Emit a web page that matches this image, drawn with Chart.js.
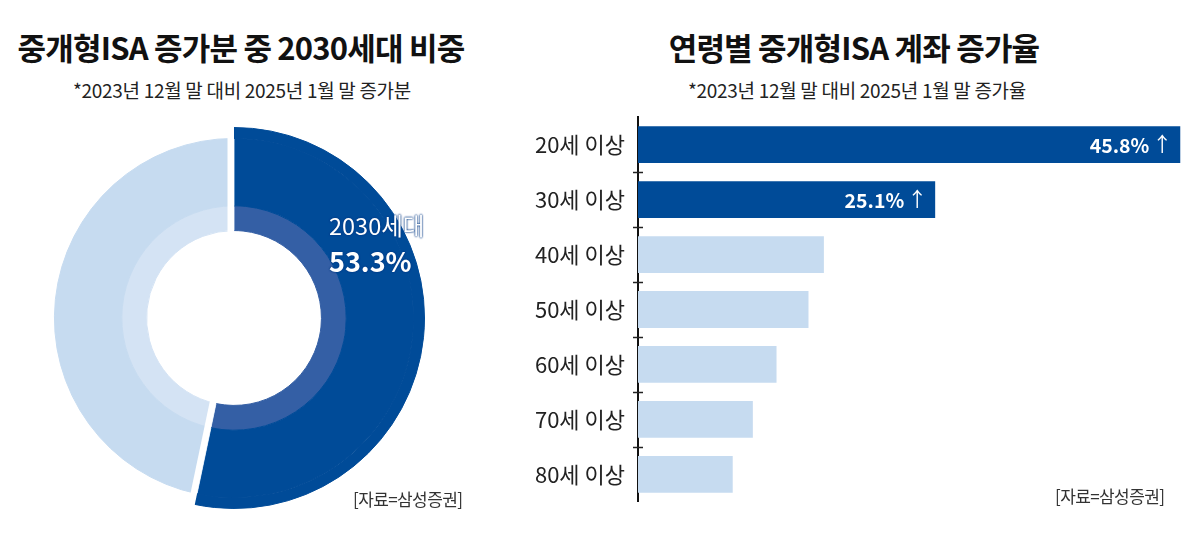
<!DOCTYPE html>
<html>
<head>
<meta charset="utf-8">
<script src="https://cdn.jsdelivr.net/npm/chart.js@4.4.1/dist/chart.umd.min.js"></script>
<style>
  body { margin: 0; width: 1200px; height: 540px; background: #fff; position: relative; overflow: hidden;
         font-family: "Noto Sans CJK KR", "Noto Sans", sans-serif; color: #111; }
  .t { position: absolute; text-align: center; white-space: nowrap; }
  .title { font-size: 31px; font-weight: 700; line-height: 38px; letter-spacing: -0.8px; top: 28px; }
  .sub { font-size: 19px; line-height: 24px; letter-spacing: -0.3px; top: 78px; color: #222; }
  .src { position: absolute; font-size: 17px; color: #333; letter-spacing: -0.6px; white-space: nowrap; }
  .lbl { position: absolute; color: #fff; white-space: nowrap; left: 329px;
         text-shadow: 0 0 2px #003a85, 0 0 2px #003a85; }
  canvas { position: absolute; }
</style>
</head>
<body>
<div class="t title" style="left:0;width:482px">중개형ISA 증가분 중 2030세대 비중</div>
<div class="t sub" style="left:0;width:484px">*2023년 12월 말 대비 2025년 1월 말 증가분</div>
<div class="t title" style="left:654px;width:400px">연령별 중개형ISA 계좌 증가율</div>
<div class="t sub" style="left:657px;width:400px">*2023년 12월 말 대비 2025년 1월 말 증가율</div>

<div style="position:absolute;left:0;top:100px;width:468px;height:436px">
  <canvas id="donut" width="468" height="436"></canvas>
</div>
<div style="position:absolute;left:500px;top:91px;width:700px;height:437px">
  <canvas id="bars" width="700" height="437"></canvas>
</div>

<div class="lbl" style="top:208px;font-size:23.5px">2030세대</div>
<div class="lbl" style="top:241px;font-size:27px;font-weight:700">53.3%</div>
<div class="src" style="left:353px;top:486px">[자료=삼성증권]</div>
<div class="src" style="left:1055px;top:483px">[자료=삼성증권]</div>

<script>
// donut: 2030 share vs the rest
const shareLabels = ["2030세대", "기타"];
const shareValues = [53.3, 46.7];

// bars: growth rate by age group
const ageLabels = ["20세 이상", "30세 이상", "40세 이상", "50세 이상", "60세 이상", "70세 이상", "80세 이상"];
const growthRates = [45.8, 25.1, 15.7, 14.4, 11.7, 9.7, 8.0];
const rateLabels = ["45.8%", "25.1%", "", "", "", "", ""];

const DARK = "#004b98";
const LIGHT = "#c6dbf0";
const DARK_BAND = "#345fa5";
const LIGHT_BAND = "#d4e3f4";
const CLEAR = "rgba(0,0,0,0)";
const FONT = "'Noto Sans CJK KR', 'Noto Sans', sans-serif";

// white gap between the two slices, on the light side of each boundary
const sliceGap = {
  id: "sliceGap",
  afterDatasetsDraw(chart) {
    const { ctx } = chart;
    const dark = chart.getDatasetMeta(1).data[0];
    const inner = chart.getDatasetMeta(2).data[0].innerRadius;
    const outer = chart.getDatasetMeta(0).data[0].outerRadius;
    const { x, y, startAngle, endAngle } = dark;
    const half = 3.25;
    ctx.save();
    ctx.strokeStyle = "#fff";
    ctx.lineWidth = half * 2;
    [[startAngle, -1], [endAngle, 1]].forEach(([a, side]) => {
      const ox = -Math.sin(a) * side * half;
      const oy = Math.cos(a) * side * half;
      ctx.beginPath();
      ctx.moveTo(x + Math.cos(a) * (inner - 3) + ox, y + Math.sin(a) * (inner - 3) + oy);
      ctx.lineTo(x + Math.cos(a) * (outer + 4) + ox, y + Math.sin(a) * (outer + 4) + oy);
      ctx.stroke();
    });
    ctx.restore();
  },
};

// three rings: thin outer one only for the dark slice, main ring, lighter inner band
// a 1px border in the fill colour hides the anti-aliasing seams between rings
new Chart(document.getElementById("donut"), {
  type: "doughnut",
  data: {
    labels: shareLabels,
    datasets: [
      { data: shareValues, backgroundColor: [DARK, CLEAR], borderColor: [DARK, CLEAR], weight: 11 },
      { data: shareValues, backgroundColor: [DARK, LIGHT], borderColor: [DARK, LIGHT], weight: 68 },
      { data: shareValues, backgroundColor: [DARK_BAND, LIGHT_BAND], borderColor: [DARK_BAND, LIGHT_BAND], weight: 25 },
    ],
  },
  options: {
    responsive: false,
    animation: false,
    radius: 190.5,
    cutout: "45.9%",
    borderWidth: 1,
    plugins: { legend: { display: false }, tooltip: { enabled: false } },
  },
  plugins: [sliceGap],
});

const barExtras = {
  id: "barExtras",
  afterDatasetsDraw(chart) {
    const { ctx, scales } = chart;
    const y = scales.y;
    const axisX = chart.chartArea.left;
    ctx.save();
    // small ticks crossing the axis between categories
    ctx.strokeStyle = "#222";
    ctx.lineWidth = 1.5;
    for (let i = 0; i < ageLabels.length - 1; i++) {
      const py = Math.round((y.getPixelForValue(i) + y.getPixelForValue(i + 1)) / 2) + 0.5;
      ctx.beginPath();
      ctx.moveTo(axisX - 5, py);
      ctx.lineTo(axisX + 5, py);
      ctx.stroke();
    }
    // value labels inside the dark bars
    const meta = chart.getDatasetMeta(0);
    ctx.fillStyle = "#fff";
    ctx.textBaseline = "middle";
    ctx.textAlign = "right";
    meta.data.forEach((bar, i) => {
      if (!rateLabels[i]) return;
      ctx.font = "400 20px " + FONT;
      const arrowW = ctx.measureText("↑").width;
      const right = bar.x - 8;
      ctx.fillText("↑", right, bar.y);
      ctx.font = "700 19.5px " + FONT;
      ctx.fillText(rateLabels[i], right - arrowW - 3, bar.y + 1);
    });
    ctx.restore();
  },
};

new Chart(document.getElementById("bars"), {
  type: "bar",
  data: {
    labels: ageLabels,
    datasets: [{
      data: growthRates,
      backgroundColor: growthRates.map((v, i) => (i < 2 ? DARK : LIGHT)),
      categoryPercentage: 1,
      barPercentage: 0.67,
    }],
  },
  options: {
    indexAxis: "y",
    responsive: false,
    animation: false,
    layout: { padding: { top: 0, right: 15, bottom: 0, left: 0 } },
    scales: {
      x: { display: false, min: 0, max: 46.2 },
      y: {
        afterFit(scale) { scale.width = 138; },
        grid: { display: false, drawTicks: false },
        border: { display: true, color: "#111", width: 2 },
        ticks: { padding: 13, color: "#222", font: { family: FONT, size: 22 } },
      },
    },
    plugins: { legend: { display: false }, tooltip: { enabled: false } },
  },
  plugins: [barExtras],
});
</script>
</body>
</html>
